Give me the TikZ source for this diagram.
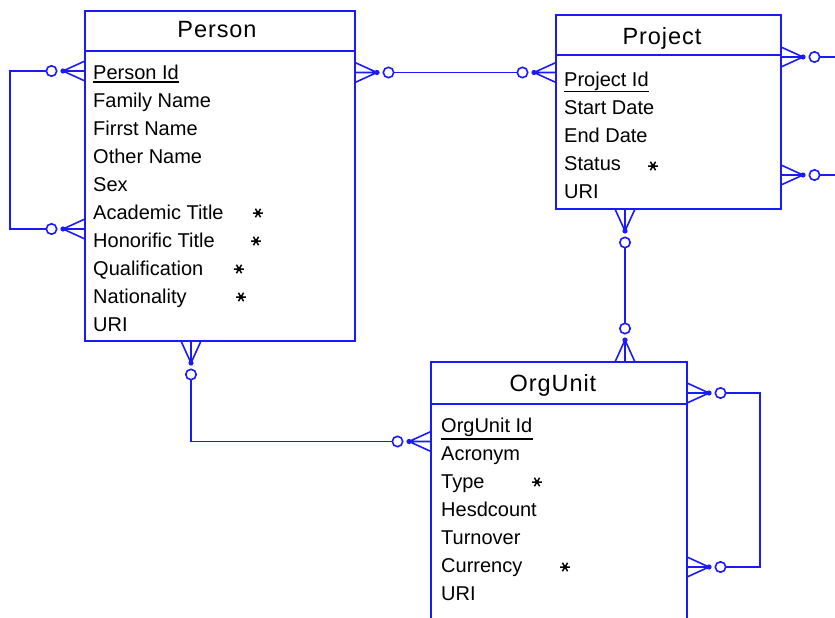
\documentclass[tikz,border=0pt]{standalone}
\usepackage{fontspec}
\setmainfont{Liberation Sans}
\definecolor{erblue}{RGB}{26,26,250}
\tikzset{
  entity/.style={draw=erblue, line width=1.9pt, fill=white, inner sep=0pt, outer sep=0pt, anchor=north west},
  sepline/.style={draw=erblue, line width=1.9pt},
  link/.style={draw=erblue, line width=1.9pt},
  foot/.style={draw=erblue, line width=1.6pt},
  attr/.style={anchor=base west, inner sep=0pt, font=\fontsize{20}{22}\selectfont},
  etitle/.style={anchor=base, inner sep=0pt, font=\fontsize{23.5}{26}\selectfont\addfontfeature{LetterSpace=4}},
  keyline/.style={draw=black, line width=1.3pt},
  % crow's foot (many), open circle (optional); origin on the box edge, pointing along -x
  crow/.pic={
    \draw[foot] (0,-10) -- (-22,0) (0,0) -- (-22,0) (0,10) -- (-22,0);
    \fill[erblue] (-22,0) circle (2.6);
    \draw[foot, fill=white] (-33.5,0) circle (5.2);
    \coordinate (-end) at (-38.7,0);
  },
  % attribute marker
  astr/.pic={
    \draw[line width=1.5pt] (-4.8,0) -- (4.8,0) (-2.6,-4.2) -- (2.6,4.2) (-2.6,4.2) -- (2.6,-4.2);
    \fill (0,0) circle (1.9);
  }
}
\begin{document}
\begin{tikzpicture}[x=1pt,y=-1pt]
\useasboundingbox (0,0) rectangle (835,618);

% ---------- entities ----------
\node[entity, minimum width=270pt, minimum height=330pt] (person) at (85,11) {};
\draw[sepline] (85,51) -- (355,51);
\node[etitle] (persontitle) at (217,37.7) {Person};

\node[entity, minimum width=225pt, minimum height=194pt] (project) at (556,15) {};
\draw[sepline] (556,55) -- (781,55);
\node[etitle] (projecttitle) at (662,45) {Project};

\node[entity, minimum width=256pt, minimum height=280pt] (orgunit) at (431,362) {};
\draw[sepline] (431,404) -- (687,404);
\node[etitle] (orgunittitle) at (553,391.5) {OrgUnit};

% ---------- attributes ----------
\foreach \t [count=\i, evaluate=\i as \yy using 79+28.05*(\i-1)] in
  {Person Id, Family Name, Firrst Name, Other Name, Sex, Academic Title,
   Honorific Title, Qualification, Nationality, URI}
  \node[attr] (pa\i) at (93,\yy) {\t};
\draw[keyline] ([yshift=-2.5pt]pa1.south west) -- ([yshift=-2.5pt]pa1.south east);

\foreach \t [count=\i, evaluate=\i as \yy using 86+28*(\i-1)] in
  {Project Id, Start Date, End Date, Status, URI}
  \node[attr] (ja\i) at (564,\yy) {\t};
\draw[keyline] ([yshift=-1pt]ja1.south west) -- ([yshift=-1pt]ja1.south east);

\foreach \t [count=\i, evaluate=\i as \yy using 432+28.1*(\i-1)] in
  {OrgUnit Id, Acronym, Type, Hesdcount, Turnover, Currency, URI}
  \node[attr] (oa\i) at (441,\yy) {\t};
\draw[keyline] ([yshift=-2.5pt]oa1.south west) -- ([yshift=-2.5pt]oa1.south east);

% optional-attribute markers
\pic at (258,213) {astr};
\pic at (256,241) {astr};
\pic at (239,269) {astr};
\pic at (241,297) {astr};
\pic at (653,166) {astr};
\pic at (537,482) {astr};
\pic at (565,567) {astr};

% ---------- relationships ----------
% Person to Person
\coordinate (pw1) at (85,71);
\coordinate (pw2) at (85,229);
\coordinate (loopL) at (10,0);
\pic (ps1) at (pw1) {crow};
\pic (ps2) at (pw2) {crow};
\draw[link] (ps1-end) -- (ps1-end -| loopL) -- (ps2-end -| loopL) -- (ps2-end);

% Person to Project
\coordinate (pe1) at (355,72.5);
\coordinate (jw1) at (556,72.5);
\pic[rotate=180] (pp) at (pe1) {crow};
\pic (jp) at (jw1) {crow};
\draw[link] (pp-end) -- (jp-end);

% Project, outgoing on the right
\coordinate (je1) at (781,57);
\coordinate (je2) at (781,175);
\coordinate (rim) at (836,0);
\pic[rotate=180] (jr1) at (je1) {crow};
\pic[rotate=180] (jr2) at (je2) {crow};
\draw[link] (jr1-end) -- (jr1-end -| rim);
\draw[link] (jr2-end) -- (jr2-end -| rim);

% Project to OrgUnit
\coordinate (js) at (625,209);
\coordinate (on) at (625,362);
\pic[rotate=90] (jo) at (js) {crow};
\pic[rotate=-90] (oj) at (on) {crow};
\draw[link] (jo-end) -- (oj-end);

% Person to OrgUnit
\coordinate (ps) at (191,341);
\coordinate (ow) at (431,441.5);
\pic[rotate=90] (po) at (ps) {crow};
\pic (op) at (ow) {crow};
\draw[link] (po-end) |- (op-end);

% OrgUnit to OrgUnit
\coordinate (oe1) at (687,393);
\coordinate (oe2) at (687,567);
\coordinate (loopR) at (760,0);
\pic[rotate=180] (os1) at (oe1) {crow};
\pic[rotate=180] (os2) at (oe2) {crow};
\draw[link] (os1-end) -- (os1-end -| loopR) -- (os2-end -| loopR) -- (os2-end);
\end{tikzpicture}
\end{document}
